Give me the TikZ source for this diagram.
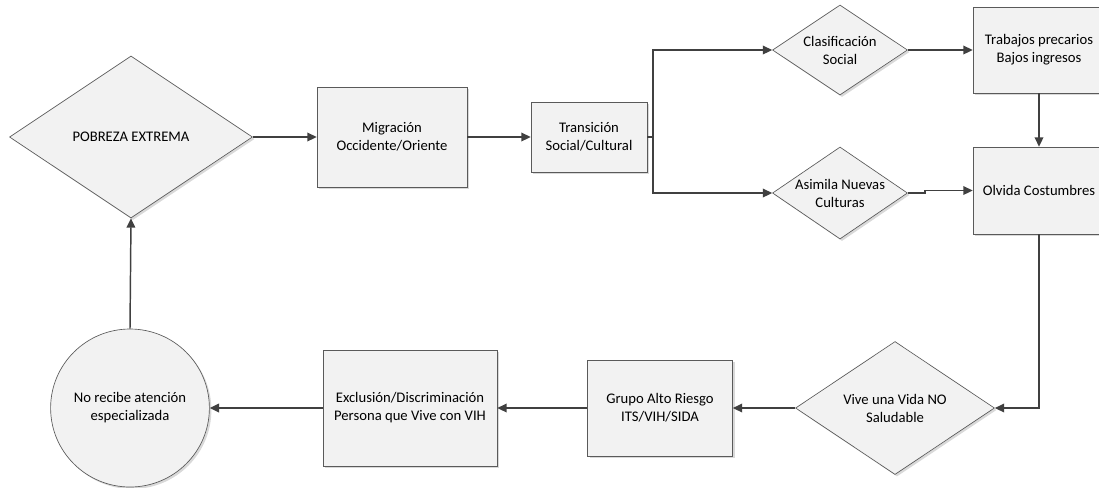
\documentclass[tikz,border=0pt]{standalone}
\usepackage{fontspec}
\setmainfont{Carlito}
\usetikzlibrary{shapes.geometric,shadows,arrows.meta}

\definecolor{boxfill}{RGB}{242,242,242}
\definecolor{boxline}{RGB}{90,90,90}
\definecolor{flowline}{RGB}{64,64,64}

\tikzset{
    base/.style={draw=boxline, line width=0.5pt, fill=boxfill, align=center,
        inner sep=0pt, font=\fontsize{11pt}{13.5pt}\selectfont,
        drop shadow={shadow xshift=1.5pt, shadow yshift=-1.5pt, opacity=.3, fill=gray}},
    stepbox/.style={base, rectangle},
    choice/.style={base, diamond, aspect=1.5},
    endcircle/.style={base, ellipse},
    flow/.style={draw=flowline, line width=1.1pt, -{Triangle[length=7pt,width=6.5pt]}},
}

\begin{document}
\begin{tikzpicture}[x=0.75pt, y=-0.75pt]
    \useasboundingbox (0,0) rectangle (1099,487);

    \node [choice, minimum width=182.25pt, minimum height=121.5pt] (pobreza) at (131,137) {POBREZA EXTREMA};
    \node [stepbox, minimum width=112.5pt, minimum height=75pt] (migracion) at (392,137) {Migración\\Occidente/Oriente};
    \node [stepbox, minimum width=87pt, minimum height=52.5pt] (transicion) at (589,137) {Transición\\Social/Cultural};
    \node [choice, minimum width=101.25pt, minimum height=67.5pt] (clasif) at (840,50) {Clasificación\\Social};
    \node [choice, minimum width=101.25pt, minimum height=69pt] (asimila) at (840,193) {Asimila Nuevas\\Culturas};
    \node [stepbox, minimum width=99pt, minimum height=64.5pt] (trabajos) at (1039,50) {Trabajos precarios\\Bajos ingresos};
    \node [stepbox, minimum width=99pt, minimum height=65.25pt] (olvida) at (1039,190.5) {Olvida Costumbres};
    \node [choice, minimum width=149.25pt, minimum height=99.75pt] (vive) at (895,408) {Vive una Vida NO\\Saludable};
    \node [stepbox, minimum width=108.75pt, minimum height=72pt] (grupo) at (660,408) {Grupo Alto Riesgo\\ITS/VIH/SIDA};
    \node [stepbox, minimum width=130.5pt, minimum height=87pt] (exclusion) at (410,408) {Exclusión/Discriminación\\Persona que Vive con VIH};
    \node [endcircle, minimum width=108.75pt, minimum height=118.5pt] (norecibe) at (130,408) {No recibe atención\\especializada};

    \coordinate (split) at (653,137);

    \draw [flow] (pobreza.east) -- (migracion.west);
    \draw [flow] (migracion.east) -- (transicion.west);
    \draw [flow] (transicion.east) -- (split) |- (clasif.west);
    \draw [flow] (split) |- (asimila.west);
    \draw [flow] (clasif.east) -- (trabajos.west);
    \draw [flow] (asimila.east) -- ++(17,0) |- (olvida.west);
    \draw [flow] (trabajos.south) -- (olvida.north);
    \draw [flow] (olvida.south) |- (vive.east);
    \draw [flow] (vive.west) -- (grupo.east);
    \draw [flow] (grupo.west) -- (exclusion.east);
    \draw [flow] (exclusion.west) -- (norecibe.east);
    \draw [flow] (norecibe.north) -- (pobreza.south);
\end{tikzpicture}
\end{document}
